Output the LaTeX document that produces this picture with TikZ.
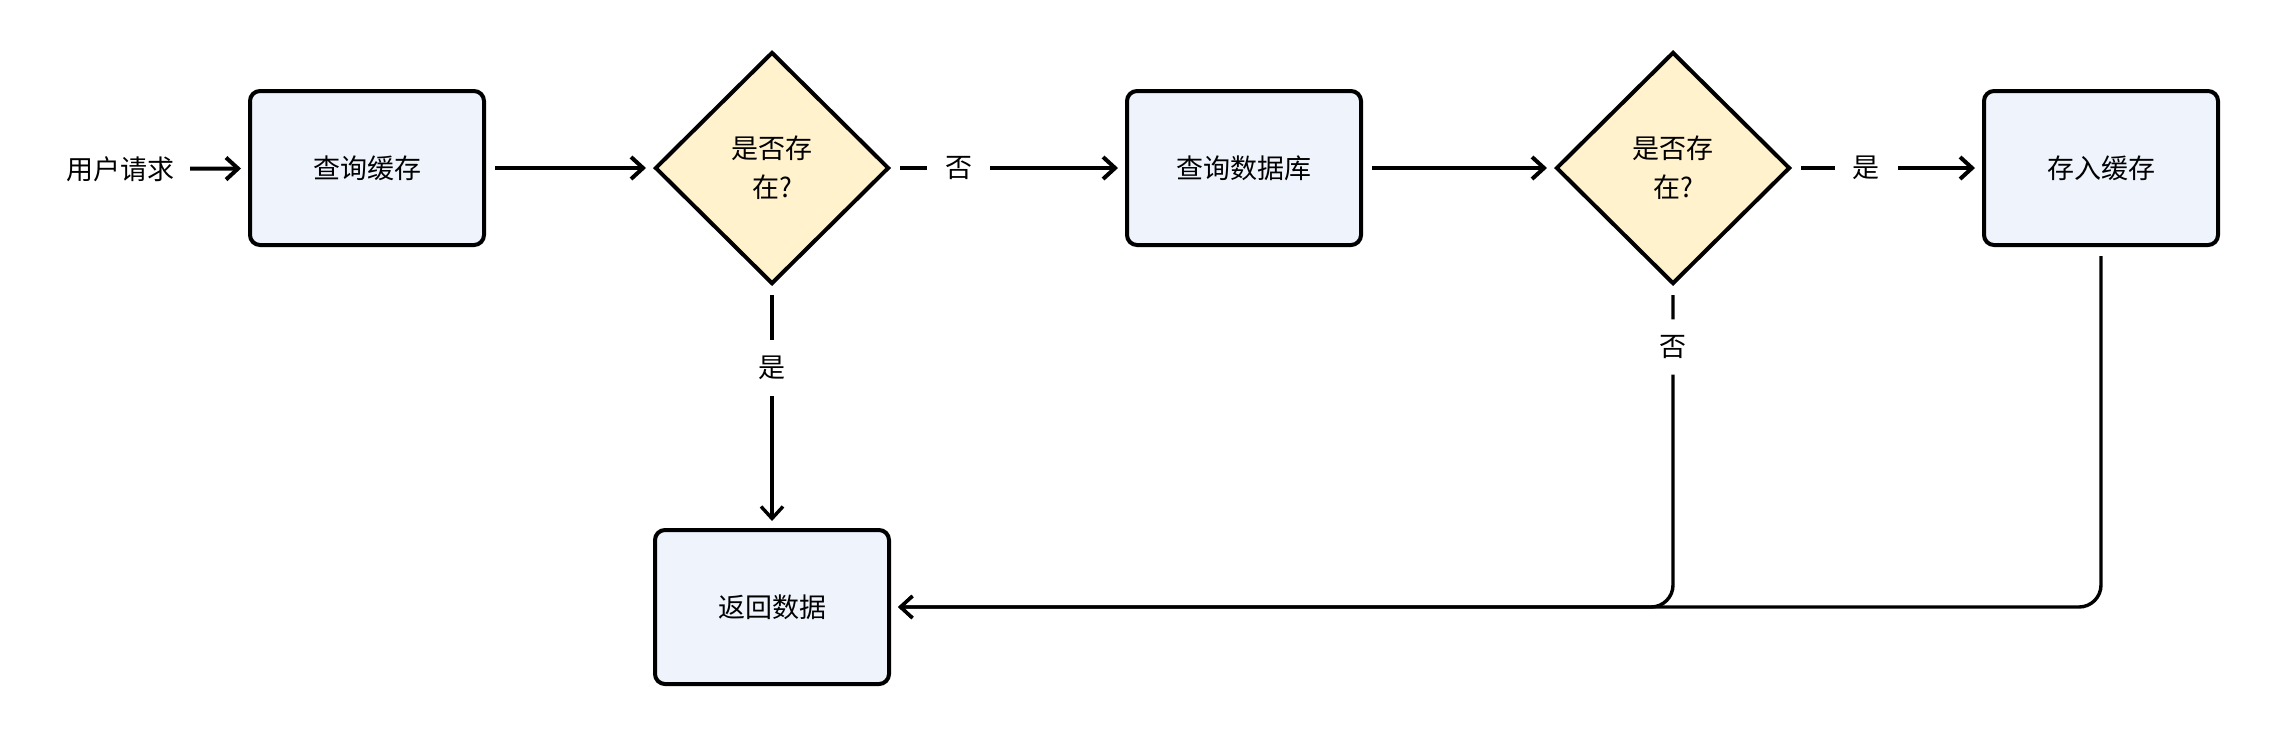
\documentclass[tikz,border=0pt]{standalone}
\usepackage{fontspec}
\setmainfont{Noto Sans CJK SC}
\usetikzlibrary{shapes.geometric,arrows.meta}
\definecolor{boxfill}{HTML}{EEF3FC}
\definecolor{decfill}{HTML}{FFF2CC}
\begin{document}
\begin{tikzpicture}[x=0.5pt,y=-0.5pt, font=\fontsize{13.5}{19.5}\selectfont,
 proc/.style={draw, line width=2pt, fill=boxfill, rounded corners=5pt, minimum width=117pt, minimum height=77pt, inner sep=0pt},
 dec/.style={draw, diamond, line width=2pt, fill=decfill, minimum width=117pt, minimum height=116pt, inner sep=0pt, align=center},
 conn/.style={line width=2pt, -{Straight Barb[length=6pt,width=11pt,line width=2pt]}, shorten >=3.5pt, shorten <=4.5pt},
 connv/.style={conn, line width=1.7pt, -{Straight Barb[length=6pt,width=11pt,line width=1.7pt]}},
 lbl/.style={fill=white, inner xsep=9pt, inner ysep=8pt}]
\path[use as bounding box] (0,0) rectangle (2270,736);
\node (start) at (120,169) {用户请求};
\node[proc] (q) at (367,168) {查询缓存};
\node[dec] (d1) at (772,168) {是否存\\在?};
\node[proc] (db) at (1244,168) {查询数据库};
\node[dec] (d2) at (1673,168) {是否存\\在?};
\node[proc] (save) at (2101,168) {存入缓存};
\node[proc] (ret) at (772,607) {返回数据};
\draw[conn] (start) -- (q);
\draw[conn] (q) -- (d1);
\draw[conn] (d1) -- node[lbl,pos=0.29]{否} (db);
\draw[conn] (db) -- (d2);
\draw[conn] (d2) -- node[lbl,pos=0.39]{是} (save);
\draw[connv] (d1) -- node[lbl,pos=0.34]{是} (ret);
\draw[connv, rounded corners=11pt] (d2) -- node[lbl,pos=0.19]{否} (d2 |- ret) -- (ret);
\draw[connv, rounded corners=11pt] (save) -- (save |- ret) -- (ret);
\end{tikzpicture}
\end{document}
